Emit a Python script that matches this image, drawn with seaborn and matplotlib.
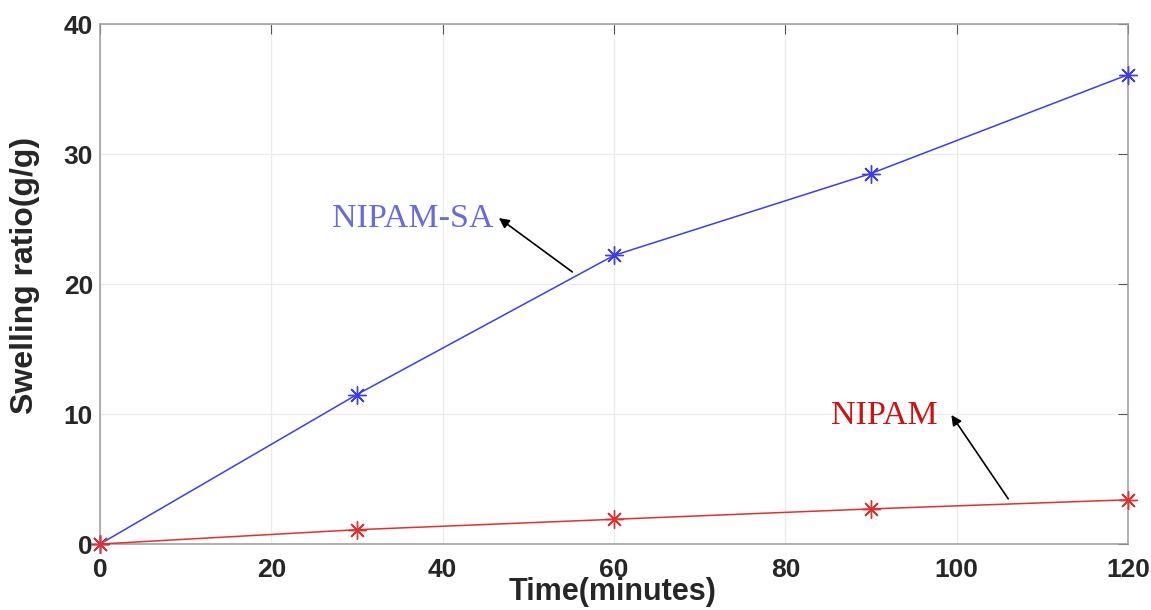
import matplotlib
matplotlib.use('Agg')
import matplotlib.pyplot as plt
import seaborn as sns
import pandas as pd

# data
time_min = [0, 30, 60, 90, 120]
nipam_sa = [0, 11.5, 22.2, 28.5, 36.1]
nipam = [0, 1.1, 1.9, 2.7, 3.4]

df = pd.DataFrame({
    'time': time_min * 2,
    'ratio': nipam_sa + nipam,
    'sample': ['NIPAM-SA'] * 5 + ['NIPAM'] * 5,
})
colors = {'NIPAM-SA': '#3d3dec', 'NIPAM': '#e23030'}

sns.set_style('white')
plt.rcParams['font.family'] = ['Liberation Sans', 'DejaVu Sans']
serif = ['Liberation Serif', 'DejaVu Serif']

fig = plt.figure(figsize=(11.51, 6.10), dpi=100)
ax = fig.add_axes([100 / 1151, 1 - 544 / 610, 1028 / 1151, 520 / 610])

sns.lineplot(data=df, x='time', y='ratio', hue='sample', palette=colors,
             marker=(8, 2, 0), markersize=13, linewidth=1.1, markeredgewidth=1.0,
             legend=False, ax=ax, clip_on=False, zorder=3)
# seaborn paints marker edges white; asterisks need the line colour
for ln in ax.lines:
    ln.set_markeredgecolor(ln.get_color())

ax.set_xlim(0, 120)
ax.set_ylim(0, 40)
ax.set_xticks([0, 20, 40, 60, 80, 100, 120])
ax.set_yticks([0, 10, 20, 30, 40])
ax.grid(True, color='#ebebeb', linewidth=0.9)
ax.set_axisbelow(True)
for s in ax.spines.values():
    s.set_visible(True)
    s.set_color('#9a9a9a')
    s.set_linewidth(1.1)
ax.tick_params(direction='in', length=7, color='#555555', top=True, right=True,
               labelsize=19)
ax.tick_params(axis='x', pad=10)
ax.tick_params(axis='y', pad=5)
for lab in ax.get_xticklabels() + ax.get_yticklabels():
    lab.set_fontweight('bold')
    lab.set_color('#262626')

ax.set_xlabel('Time(minutes)', fontsize=22, fontweight='bold', color='#262626')
ax.set_ylabel('Swelling ratio(g/g)', fontsize=23, fontweight='bold', color='#262626')
ax.xaxis.set_label_coords(0.499, -0.064)
ax.yaxis.set_label_coords(-0.058, 0.517)

ax.annotate('NIPAM-SA', xy=(45.9, 25.0), ha='right', va='center',
            fontsize=24.5, family=serif, color='#6a6ad8')
ax.annotate('', xy=(46.3, 25.2), xytext=(55.4, 20.8),
            arrowprops=dict(arrowstyle='-|>', color='black', lw=1.2, mutation_scale=15))
ax.annotate('NIPAM', xy=(97.8, 9.9), ha='right', va='center',
            fontsize=24.5, family=serif, color='#c81414')
ax.annotate('', xy=(99.2, 10.1), xytext=(106.2, 3.3),
            arrowprops=dict(arrowstyle='-|>', color='black', lw=1.2, mutation_scale=15))

fig.savefig('out.png', dpi=100)
